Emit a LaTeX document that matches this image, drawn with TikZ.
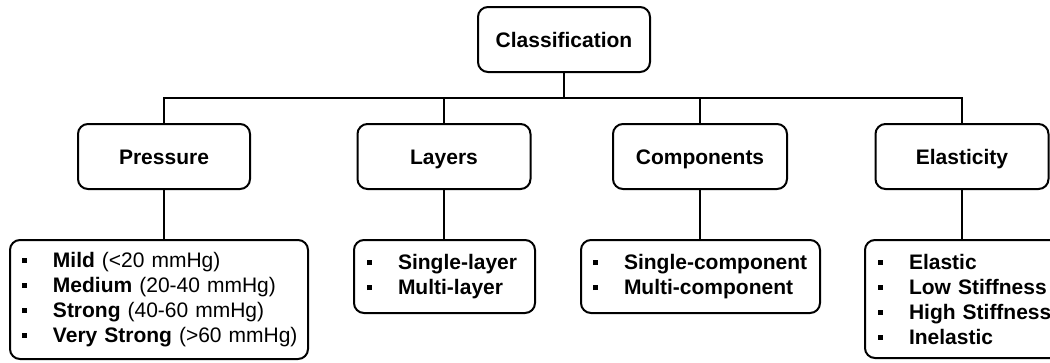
\documentclass[tikz,border=0pt]{standalone}
\usepackage{fontspec}
\setmainfont{Liberation Sans}
\begin{document}
\begin{tikzpicture}[x=1pt,y=-1pt,
  box/.style={draw, line width=2pt, rounded corners=10pt, inner sep=0pt,
    text height=15pt, text depth=0pt,
    font=\fontsize{21}{25}\selectfont\bfseries, align=center},
  listbox/.style={draw, line width=2pt, rounded corners=10pt, inner ysep=0pt,
    inner xsep=12pt, align=left, font=\fontsize{21}{25}\selectfont},
  link/.style={line width=2pt}]
\newcommand{\sqitem}[1]{\mbox{\makebox[31pt][l]{\rule[4.4pt]{4.8pt}{4.8pt}}#1}}
\useasboundingbox (0,0) rectangle (1050,362);

% top-level node and the four categories
\node[box, minimum width=172pt, minimum height=65pt] (class) at (564,39.5) {Classification};
\node[box, minimum width=172pt, minimum height=65pt] (pressure) at (164,156.5) {Pressure};
\node[box, minimum width=173pt, minimum height=65pt] (layers) at (444,156.5) {Layers};
\node[box, minimum width=174pt, minimum height=65pt] (components) at (700,156.5) {Components};
\node[box, minimum width=173pt, minimum height=65pt] (elastic) at (962,156.5) {Elasticity};

% item lists under each category
\node[listbox, minimum width=298pt, minimum height=119pt, text width=274pt] (plist) at (159,299.5)
  {\sqitem{\textbf{Mild} (<20 mmHg)}\\
   \sqitem{\textbf{Medium} (20-40 mmHg)}\\
   \sqitem{\textbf{Strong} (40-60 mmHg)}\\
   \sqitem{\textbf{Very Strong} (>60 mmHg)}};
\node[listbox, minimum width=181pt, minimum height=73pt, text width=155pt, inner xsep=13pt] (llist) at (444.5,276.5)
  {\sqitem{\textbf{Single-layer}}\\
   \sqitem{\textbf{Multi-layer}}};
\node[listbox, minimum width=239pt, minimum height=73pt, text width=215pt] (clist) at (700.5,276.5)
  {\sqitem{\textbf{Single-component}}\\
   \sqitem{\textbf{Multi-component}}};
\node[listbox, minimum width=200pt, minimum height=118pt, text width=174pt, inner xsep=13pt] (elist) at (965,299)
  {\sqitem{\textbf{Elastic}}\\
   \sqitem{\textbf{Low Stiffness}}\\
   \sqitem{\textbf{High Stiffness}}\\
   \sqitem{\textbf{Inelastic}}};

% tree connectors
\coordinate (bus) at (564,98);
\draw[link] (class.south) -- (bus);
\draw[link] (pressure.north) |- (bus) -| (elastic.north);
\draw[link] (layers.north) -- (layers.north |- bus);
\draw[link] (components.north) -- (components.north |- bus);
\draw[link] (pressure.south) -- (pressure.south |- plist.north);
\draw[link] (layers.south) -- (layers.south |- llist.north);
\draw[link] (components.south) -- (components.south |- clist.north);
\draw[link] (elastic.south) -- (elastic.south |- elist.north);
\end{tikzpicture}
\end{document}
